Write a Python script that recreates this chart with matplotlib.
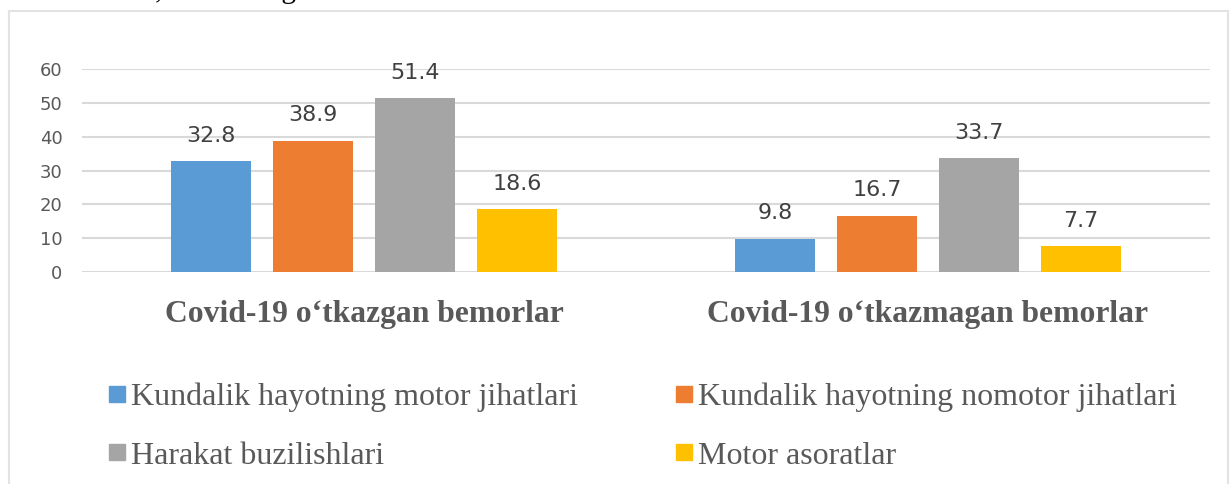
import matplotlib.pyplot as plt
from matplotlib.lines import Line2D
from matplotlib.patches import Rectangle
import numpy as np

groups = ['Covid-19 o\u2018tkazgan bemorlar', 'Covid-19 o\u2018tkazmagan bemorlar']
series = ['Kundalik hayotning motor jihatlari', 'Kundalik hayotning nomotor jihatlari',
          'Harakat buzilishlari', 'Motor asoratlar']
motor = [32.8, 9.8]
nomotor = [38.9, 16.7]
harakat = [51.4, 33.7]
asorat = [18.6, 7.7]
colors = ['#5B9BD5', '#ED7D31', '#A5A5A5', '#FFC000']

fig = plt.figure(figsize=(12.3, 4.84), dpi=100)
ax = fig.add_axes([0.0667, 0.438, 0.917, 0.419])

x = np.arange(len(groups))
width = 0.142
step = 0.181
handles = []
for i, (vals, c) in enumerate(zip([motor, nomotor, harakat, asorat], colors)):
    bars = ax.bar(x + (i - 1.5) * step, vals, width, color=c, zorder=3)
    for b, v in zip(bars, vals):
        ax.annotate(f'{v}', (b.get_x() + b.get_width() / 2, v), xytext=(0, 14),
                    textcoords='offset points', ha='center', va='baseline',
                    fontsize=16, color='#404040', family='DejaVu Sans')
    handles.append(Line2D([], [], marker='s', color=c, linestyle='none', markersize=11))

ax.set_xlim(-0.5, 1.5)
ax.set_ylim(0, 60)
ax.set_yticks(range(0, 61, 10))
ax.yaxis.grid(True, color='#d9d9d9', linewidth=1.5, zorder=0)
ax.tick_params(axis='y', length=0, pad=14, labelsize=13, labelcolor='#595959')
for lbl in ax.get_yticklabels():
    lbl.set_family('DejaVu Sans')
ax.set_xticks(x)
ax.set_xticklabels(groups, family='Liberation Serif', fontweight='bold', fontsize=22.8, color='#595959')
ax.tick_params(axis='x', length=0, pad=20)
for s in ax.spines.values():
    s.set_visible(False)

# row-major order like the reference: matplotlib fills legend columns first
order = [0, 2, 1, 3]
fig.legend([handles[k] for k in order], [series[k] for k in order], loc='upper left',
           bbox_to_anchor=(0.0752, 0.2425), ncol=2,
           frameon=False, prop={'family': 'Liberation Serif', 'size': 23},
           labelcolor='#595959', handlelength=0.55, handletextpad=0.15,
           columnspacing=3.05, labelspacing=0.91, borderpad=0)

fig.patches.append(Rectangle((9 / 1230, -0.05), 1219 / 1230, 1 - 11 / 484 + 0.05,
                             transform=fig.transFigure, fill=False, edgecolor='#e3e3e3', linewidth=1.5))

fig.text(0.0, 1 + 2 / 484, 'maalumotlari, o\u2018rta va og\u2018ir', family='Liberation Serif',
         fontsize=21, color='black', va='baseline', ha='left')

fig.savefig('out.png', dpi=100)
